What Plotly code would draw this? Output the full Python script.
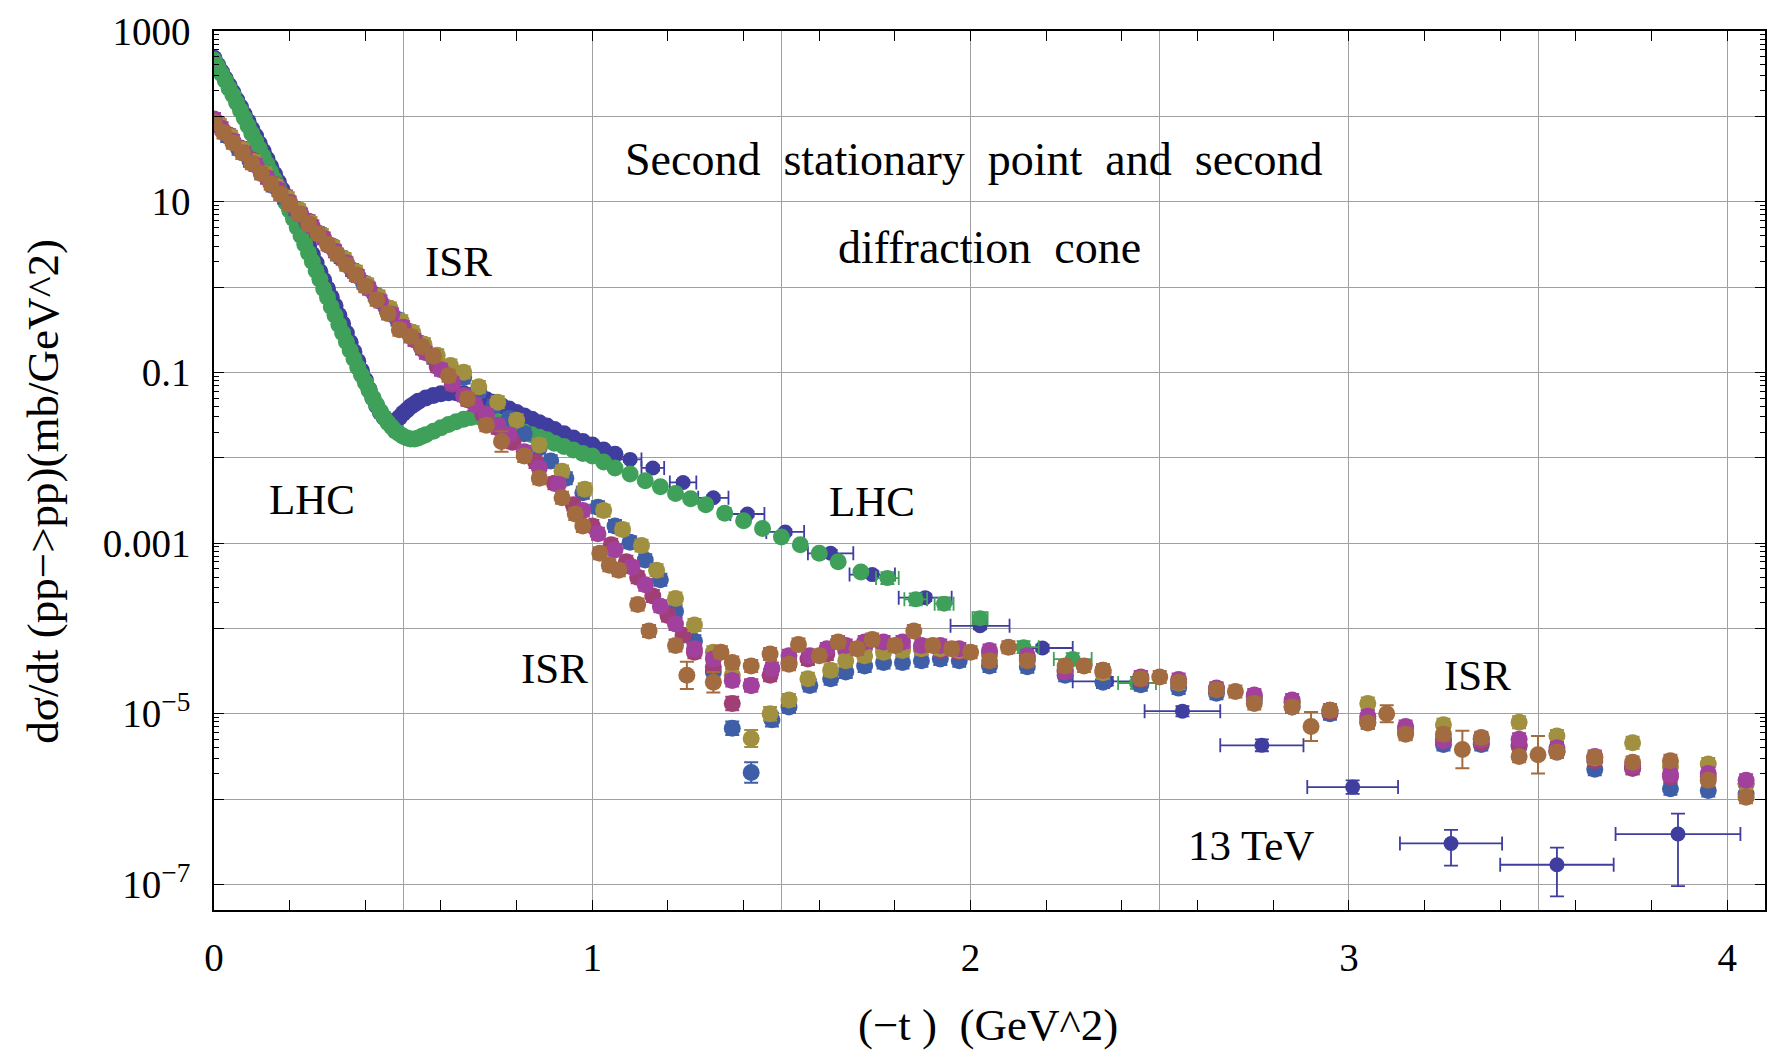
import plotly.graph_objects as go

# ---------------- data (y given as log10 values) ----------------
# LHC 13 TeV, dense region: (t, log10 dsigma/dt)
LHC13_T = [0.000, 0.010, 0.020, 0.030, 0.040, 0.050, 0.060, 0.070, 0.080, 0.090,
           0.100, 0.110, 0.120, 0.130, 0.140, 0.150, 0.160, 0.170, 0.180, 0.190,
           0.200, 0.210, 0.220, 0.230, 0.240, 0.250, 0.260, 0.270, 0.280, 0.290,
           0.300, 0.310, 0.320, 0.330, 0.340, 0.350, 0.360, 0.370, 0.380, 0.390,
           0.400, 0.410, 0.420, 0.430, 0.440, 0.450, 0.460, 0.470, 0.480, 0.490,
           0.500, 0.510, 0.520, 0.530, 0.540, 0.560, 0.580, 0.600, 0.620, 0.640,
           0.660, 0.680, 0.700, 0.720, 0.740, 0.760, 0.780, 0.800, 0.820, 0.840,
           0.860, 0.880, 0.900, 0.925, 0.950, 0.975, 1.000, 1.030, 1.060]
LHC13_LOGY = [2.68, 2.60, 2.52, 2.44, 2.36, 2.28, 2.19, 2.11, 2.02, 1.94,
              1.85, 1.77, 1.68, 1.59, 1.50, 1.41, 1.32, 1.23, 1.14, 1.05,
              0.96, 0.86, 0.77, 0.67, 0.58, 0.48, 0.38, 0.28, 0.18, 0.08,
              -0.02, -0.12, -0.22, -0.33, -0.43, -0.54, -0.65, -0.76, -0.87, -0.98,
              -1.09, -1.20, -1.30, -1.39, -1.47, -1.53, -1.57, -1.58, -1.57, -1.53,
              -1.48, -1.44, -1.40, -1.37, -1.34, -1.30, -1.27, -1.25, -1.24, -1.24,
              -1.25, -1.27, -1.29, -1.32, -1.35, -1.39, -1.43, -1.47, -1.51, -1.55,
              -1.59, -1.63, -1.67, -1.72, -1.77, -1.81, -1.85, -1.91, -1.96]

# LHC 13 TeV, binned points with error bars
LHC13B_T = [1.10, 1.16, 1.24, 1.32, 1.41, 1.51, 1.63, 1.74, 1.88, 2.025,
            2.19, 2.36, 2.56, 2.77, 3.01, 3.27, 3.55, 3.87]
LHC13B_LOGY = [-2.02, -2.12, -2.29, -2.47, -2.66, -2.87, -3.12, -3.37, -3.64, -3.97,
               -4.23, -4.62, -4.97, -5.37, -5.86, -6.52, -6.77, -6.41]
LHC13B_XERR = [0.03, 0.03, 0.035, 0.04, 0.045, 0.05, 0.06, 0.06, 0.07, 0.078,
               0.08, 0.09, 0.10, 0.11, 0.12, 0.135, 0.15, 0.165]
LHC13B_DEX_UP = [0.03, 0.03, 0.03, 0.03, 0.03, 0.03, 0.04, 0.04, 0.04, 0.04,
                 0.04, 0.05, 0.06, 0.07, 0.08, 0.16, 0.20, 0.24]
LHC13B_DEX_DN = [0.03, 0.03, 0.03, 0.03, 0.03, 0.03, 0.04, 0.04, 0.04, 0.04,
                 0.04, 0.05, 0.06, 0.07, 0.08, 0.26, 0.37, 0.61]

# LHC 7 TeV (green), dense region
LHC7_T = [0.000, 0.010, 0.020, 0.030, 0.040, 0.050, 0.060, 0.070, 0.080, 0.090,
          0.100, 0.110, 0.120, 0.130, 0.140, 0.150, 0.160, 0.170, 0.180, 0.190,
          0.200, 0.210, 0.220, 0.230, 0.240, 0.250, 0.260, 0.270, 0.280, 0.290,
          0.300, 0.310, 0.320, 0.330, 0.340, 0.350, 0.360, 0.370, 0.380, 0.390,
          0.400, 0.410, 0.420, 0.430, 0.440, 0.450, 0.460, 0.470, 0.480, 0.490,
          0.500, 0.510, 0.520, 0.530, 0.540, 0.550, 0.560, 0.580, 0.600, 0.620,
          0.640, 0.660, 0.680, 0.700, 0.720, 0.740, 0.760, 0.780, 0.800, 0.820,
          0.840, 0.860, 0.880, 0.900, 0.925, 0.950, 0.975, 1.000, 1.030, 1.060,
          1.100, 1.140, 1.180, 1.220, 1.260, 1.300, 1.350, 1.400, 1.450, 1.500,
          1.550, 1.600, 1.650, 1.710]
LHC7_LOGY = [2.66, 2.58, 2.50, 2.42, 2.33, 2.25, 2.16, 2.07, 1.98, 1.89,
             1.80, 1.71, 1.62, 1.53, 1.44, 1.35, 1.26, 1.17, 1.08, 0.99,
             0.90, 0.80, 0.70, 0.60, 0.50, 0.40, 0.30, 0.19, 0.09, -0.02,
             -0.12, -0.23, -0.33, -0.44, -0.54, -0.64, -0.74, -0.84, -0.94, -1.03,
             -1.12, -1.21, -1.30, -1.38, -1.46, -1.53, -1.59, -1.64, -1.69, -1.72,
             -1.75, -1.77, -1.78, -1.78, -1.77, -1.75, -1.73, -1.69, -1.65, -1.61,
             -1.58, -1.55, -1.53, -1.52, -1.53, -1.56, -1.59, -1.62, -1.66, -1.70,
             -1.73, -1.76, -1.79, -1.83, -1.87, -1.91, -1.95, -1.98, -2.05, -2.12,
             -2.19, -2.27, -2.34, -2.42, -2.48, -2.55, -2.65, -2.74, -2.83, -2.93,
             -3.02, -3.12, -3.22, -3.34]
# LHC 7 TeV, points with horizontal bars
LHC7B_T = [1.78, 1.855, 1.93, 2.025, 2.14, 2.27, 2.44]
LHC7B_LOGY = [-3.41, -3.66, -3.71, -3.88, -4.22, -4.36, -4.64]
LHC7B_XERR = [0.03, 0.03, 0.025, 0.02, 0.04, 0.05, 0.05]

# ISR energies: (t, log10 y, log10 half error)
ISR_BLUE = [
    (0.005, 1.91, 0.07), (0.035, 1.77, 0.07), (0.065, 1.62, 0.07), (0.095, 1.48, 0.07),
    (0.125, 1.34, 0.07), (0.155, 1.19, 0.07), (0.185, 1.05, 0.07), (0.215, 0.91, 0.07),
    (0.245, 0.77, 0.07), (0.275, 0.63, 0.07), (0.305, 0.49, 0.07), (0.335, 0.35, 0.07),
    (0.365, 0.20, 0.07), (0.395, 0.05, 0.07), (0.425, -0.09, 0.07), (0.455, -0.24, 0.07),
    (0.485, -0.38, 0.07), (0.515, -0.52, 0.07), (0.545, -0.66, 0.07), (0.58, -0.83, 0.07),
    (0.62, -0.95, 0.07), (0.66, -1.06, 0.07), (0.70, -1.22, 0.07), (0.74, -1.39, 0.07),
    (0.78, -1.54, 0.07), (0.82, -1.72, 0.07), (0.86, -1.88, 0.07), (0.89, -2.04, 0.07),
    (0.93, -2.24, 0.07), (0.975, -2.41, 0.07), (1.015, -2.58, 0.07), (1.06, -2.80, 0.07),
    (1.10, -2.99, 0.07), (1.14, -3.20, 0.07), (1.18, -3.43, 0.07), (1.22, -3.80, 0.07),
    (1.27, -4.15, 0.07), (1.32, -4.51, 0.07), (1.37, -5.17, 0.08), (1.42, -5.69, 0.12),
    (1.475, -5.07, 0.08), (1.52, -4.92, 0.07), (1.575, -4.67, 0.07), (1.63, -4.59, 0.07),
    (1.67, -4.51, 0.07), (1.72, -4.44, 0.07), (1.77, -4.40, 0.07), (1.82, -4.40, 0.07),
    (1.87, -4.38, 0.07), (1.92, -4.36, 0.07), (1.97, -4.38, 0.07), (2.05, -4.44, 0.07),
    (2.15, -4.45, 0.07), (2.25, -4.55, 0.07), (2.35, -4.63, 0.07), (2.45, -4.66, 0.07),
    (2.55, -4.70, 0.07), (2.65, -4.76, 0.07), (2.75, -4.84, 0.07), (2.85, -4.92, 0.07),
    (2.95, -5.00, 0.07), (3.05, -5.10, 0.07), (3.15, -5.22, 0.07), (3.25, -5.36, 0.07),
    (3.35, -5.36, 0.07), (3.45, -5.38, 0.07), (3.55, -5.45, 0.07), (3.65, -5.65, 0.07),
    (3.75, -5.64, 0.07), (3.85, -5.88, 0.07), (3.95, -5.90, 0.07), (4.05, -5.94, 0.07),
]
ISR_CRIMSON = [
    (0.010, 1.92, 0.07), (0.04, 1.78, 0.07), (0.07, 1.63, 0.07), (0.10, 1.49, 0.07),
    (0.13, 1.34, 0.07), (0.16, 1.20, 0.07), (0.19, 1.06, 0.07), (0.22, 0.91, 0.07),
    (0.25, 0.77, 0.07), (0.28, 0.62, 0.07), (0.31, 0.48, 0.07), (0.34, 0.33, 0.07),
    (0.37, 0.18, 0.07), (0.40, 0.03, 0.07), (0.43, -0.12, 0.07), (0.46, -0.27, 0.07),
    (0.49, -0.42, 0.07), (0.52, -0.57, 0.07), (0.55, -0.72, 0.07), (0.59, -0.93, 0.07),
    (0.63, -1.14, 0.07), (0.67, -1.32, 0.07), (0.71, -1.48, 0.07), (0.75, -1.65, 0.07),
    (0.79, -1.82, 0.07), (0.85, -2.05, 0.07), (0.90, -2.30, 0.07), (0.95, -2.55, 0.07),
    (1.00, -2.80, 0.07), (1.05, -3.02, 0.07), (1.09, -3.22, 0.07), (1.12, -3.40, 0.07),
    (1.16, -3.62, 0.07), (1.20, -3.85, 0.07), (1.24, -4.08, 0.07), (1.27, -4.28, 0.07),
    (1.32, -4.45, 0.07), (1.37, -4.88, 0.08), (1.42, -4.67, 0.07), (1.47, -4.55, 0.07),
    (1.52, -4.40, 0.07), (1.57, -4.36, 0.07), (1.62, -4.30, 0.07), (1.67, -4.26, 0.07),
    (1.72, -4.22, 0.07), (1.77, -4.22, 0.07), (1.82, -4.22, 0.07), (1.87, -4.24, 0.07),
    (1.92, -4.26, 0.07), (1.97, -4.28, 0.07), (2.05, -4.30, 0.07), (2.15, -4.36, 0.07),
    (2.25, -4.50, 0.07), (2.35, -4.52, 0.07), (2.45, -4.60, 0.07), (2.55, -4.64, 0.07),
    (2.65, -4.72, 0.07), (2.75, -4.80, 0.07), (2.85, -4.87, 0.07), (2.95, -4.98, 0.07),
    (3.05, -5.06, 0.07), (3.15, -5.18, 0.07), (3.25, -5.30, 0.07), (3.35, -5.34, 0.07),
    (3.45, -5.36, 0.07), (3.55, -5.44, 0.07), (3.65, -5.55, 0.07), (3.75, -5.64, 0.07),
    (3.85, -5.74, 0.07), (3.95, -5.74, 0.07), (4.05, -5.82, 0.07),
]
ISR_OLIVE = [
    (0.015, 1.90, 0.07), (0.045, 1.76, 0.07), (0.075, 1.61, 0.07), (0.105, 1.47, 0.07),
    (0.135, 1.33, 0.07), (0.165, 1.18, 0.07), (0.195, 1.04, 0.07), (0.225, 0.90, 0.07),
    (0.255, 0.75, 0.07), (0.285, 0.61, 0.07), (0.315, 0.47, 0.07), (0.345, 0.33, 0.07),
    (0.375, 0.18, 0.07), (0.405, 0.03, 0.07), (0.435, -0.11, 0.07), (0.465, -0.25, 0.07),
    (0.495, -0.40, 0.07), (0.525, -0.53, 0.07), (0.555, -0.67, 0.07), (0.59, -0.80, 0.07),
    (0.625, -0.92, 0.07), (0.66, -1.00, 0.07), (0.70, -1.17, 0.07), (0.75, -1.35, 0.07),
    (0.80, -1.56, 0.07), (0.86, -1.85, 0.07), (0.92, -2.16, 0.07), (0.98, -2.37, 0.07),
    (1.03, -2.62, 0.07), (1.08, -2.84, 0.07), (1.13, -3.03, 0.07), (1.17, -3.32, 0.07),
    (1.22, -3.65, 0.07), (1.27, -3.96, 0.07), (1.32, -4.28, 0.07), (1.37, -4.55, 0.07),
    (1.42, -5.29, 0.10), (1.47, -5.00, 0.08), (1.52, -4.84, 0.07), (1.57, -4.59, 0.07),
    (1.63, -4.49, 0.07), (1.67, -4.38, 0.07), (1.72, -4.32, 0.07), (1.77, -4.28, 0.07),
    (1.82, -4.26, 0.07), (1.87, -4.24, 0.07), (1.92, -4.24, 0.07), (1.97, -4.26, 0.07),
    (2.05, -4.30, 0.07), (2.15, -4.36, 0.07), (2.25, -4.48, 0.07), (2.35, -4.52, 0.07),
    (2.45, -4.58, 0.07), (2.55, -4.64, 0.07), (2.65, -4.71, 0.07), (2.75, -4.80, 0.07),
    (2.85, -4.87, 0.07), (2.95, -4.96, 0.07), (3.05, -4.88, 0.07), (3.15, -5.18, 0.07),
    (3.25, -5.13, 0.07), (3.35, -5.30, 0.07), (3.45, -5.10, 0.07), (3.55, -5.26, 0.07),
    (3.65, -5.52, 0.07), (3.75, -5.34, 0.07), (3.85, -5.62, 0.07), (3.95, -5.59, 0.07),
    (4.05, -5.82, 0.07),
]
ISR_MAGENTA = [
    (0.000, 1.97, 0.07), (0.02, 1.86, 0.07), (0.05, 1.71, 0.07), (0.08, 1.57, 0.07),
    (0.11, 1.43, 0.07), (0.14, 1.28, 0.07), (0.17, 1.14, 0.07), (0.20, 0.99, 0.07),
    (0.23, 0.85, 0.07), (0.26, 0.71, 0.07), (0.29, 0.57, 0.07), (0.32, 0.42, 0.07),
    (0.35, 0.28, 0.07), (0.38, 0.13, 0.07), (0.41, -0.02, 0.07), (0.44, -0.17, 0.07),
    (0.47, -0.32, 0.07), (0.50, -0.47, 0.07), (0.53, -0.62, 0.07), (0.56, -0.77, 0.07),
    (0.60, -0.97, 0.07), (0.63, -1.12, 0.07), (0.66, -1.27, 0.07), (0.69, -1.38, 0.07),
    (0.72, -1.50, 0.07), (0.75, -1.62, 0.07), (0.78, -1.73, 0.07), (0.82, -1.93, 0.07),
    (0.86, -2.12, 0.07), (0.91, -2.31, 0.07), (0.975, -2.62, 0.07), (1.015, -2.89, 0.07),
    (1.06, -3.08, 0.07), (1.105, -3.28, 0.07), (1.14, -3.49, 0.07), (1.18, -3.74, 0.07),
    (1.22, -3.95, 0.07), (1.27, -4.24, 0.07), (1.32, -4.36, 0.07), (1.37, -4.61, 0.07),
    (1.42, -4.67, 0.07), (1.475, -4.47, 0.07), (1.52, -4.32, 0.07), (1.575, -4.32, 0.07),
    (1.62, -4.24, 0.07), (1.67, -4.20, 0.07), (1.72, -4.16, 0.07), (1.77, -4.16, 0.07),
    (1.82, -4.16, 0.07), (1.87, -4.20, 0.07), (1.92, -4.20, 0.07), (1.97, -4.24, 0.07),
    (2.05, -4.26, 0.07), (2.15, -4.32, 0.07), (2.25, -4.51, 0.07), (2.35, -4.49, 0.07),
    (2.45, -4.57, 0.07), (2.55, -4.60, 0.07), (2.65, -4.70, 0.07), (2.75, -4.78, 0.07),
    (2.85, -4.84, 0.07), (2.95, -4.96, 0.07), (3.05, -5.03, 0.07), (3.15, -5.15, 0.07),
    (3.25, -5.32, 0.07), (3.35, -5.30, 0.07), (3.45, -5.30, 0.07), (3.55, -5.40, 0.07),
    (3.65, -5.50, 0.07), (3.75, -5.61, 0.07), (3.85, -5.71, 0.07), (3.95, -5.70, 0.07),
    (4.05, -5.78, 0.07),
]
ISR_BROWN = [
    (0.000, 1.93, 0.07), (0.025, 1.81, 0.07), (0.05, 1.69, 0.07), (0.075, 1.57, 0.07),
    (0.10, 1.45, 0.07), (0.125, 1.33, 0.07), (0.15, 1.21, 0.07), (0.175, 1.09, 0.07),
    (0.20, 0.97, 0.07), (0.225, 0.86, 0.07), (0.25, 0.74, 0.07), (0.275, 0.62, 0.07),
    (0.30, 0.50, 0.07), (0.325, 0.38, 0.07), (0.35, 0.26, 0.07), (0.375, 0.14, 0.07),
    (0.40, 0.01, 0.07), (0.43, -0.15, 0.07), (0.46, -0.31, 0.07), (0.49, -0.50, 0.07),
    (0.52, -0.58, 0.07), (0.55, -0.70, 0.07), (0.58, -0.81, 0.07), (0.62, -1.04, 0.07),
    (0.67, -1.31, 0.07), (0.72, -1.62, 0.07), (0.76, -1.81, 0.12), (0.82, -1.98, 0.07),
    (0.86, -2.24, 0.07), (0.92, -2.47, 0.07), (0.955, -2.66, 0.07), (0.975, -2.80, 0.07),
    (1.02, -3.12, 0.07), (1.045, -3.26, 0.07), (1.07, -3.32, 0.07), (1.12, -3.72, 0.07),
    (1.15, -4.03, 0.07), (1.22, -4.20, 0.07), (1.25, -4.55, 0.16), (1.32, -4.63, 0.12),
    (1.34, -4.28, 0.07), (1.37, -4.40, 0.07), (1.42, -4.44, 0.07), (1.47, -4.30, 0.07),
    (1.52, -4.42, 0.07), (1.545, -4.19, 0.07), (1.60, -4.32, 0.07), (1.65, -4.16, 0.07),
    (1.70, -4.24, 0.07), (1.74, -4.13, 0.07), (1.80, -4.20, 0.07), (1.85, -4.03, 0.07),
    (1.90, -4.20, 0.07), (1.95, -4.24, 0.07), (2.00, -4.28, 0.07), (2.05, -4.38, 0.07),
    (2.10, -4.22, 0.07), (2.15, -4.38, 0.07), (2.25, -4.44, 0.07), (2.30, -4.44, 0.07),
    (2.35, -4.49, 0.07), (2.45, -4.59, 0.07), (2.50, -4.57, 0.07), (2.55, -4.63, 0.07),
    (2.65, -4.72, 0.07), (2.70, -4.74, 0.07), (2.75, -4.88, 0.07), (2.85, -4.92, 0.07),
    (2.90, -5.15, 0.17), (2.95, -4.96, 0.07), (3.05, -5.11, 0.07), (3.10, -5.00, 0.10),
    (3.15, -5.24, 0.07), (3.25, -5.24, 0.07), (3.30, -5.42, 0.22), (3.35, -5.28, 0.07),
    (3.45, -5.50, 0.07), (3.50, -5.48, 0.22), (3.55, -5.45, 0.07), (3.65, -5.51, 0.07),
    (3.75, -5.57, 0.07), (3.85, -5.55, 0.07), (3.95, -5.78, 0.07), (4.05, -5.98, 0.07),
]

NB = "\u00a0"
ANNOTATIONS = [
    (("Second", "stationary", "point", "and", "second"), 2.01, 1.49),
    (("diffraction", "cone"), 2.05, 0.46),
    (("ISR",), 0.647, 0.30),
    (("LHC",), 0.26, -2.49),
    (("LHC",), 1.74, -2.51),
    (("ISR",), 0.90, -4.47),
    (("ISR",), 3.34, -4.55),
    (("13 TeV",), 2.74, -6.54),
]

Y_TICK_EXP = [3, 2, 1, 0, -1, -2, -3, -4, -5, -6, -7]
Y_TICK_TEXT = {3: "1000", 1: "10", -1: "0.1", -3: "0.001",
               -5: "10<sup>\u22125</sup>", -7: "10<sup>\u22127</sup>"}
X_LABELS = [0, 1, 2, 3, 4]

# ---------------- styling ----------------
INDIGO = "#3f3d9e"
GREEN = "#3fa05a"
BLUE = "#3e5fa8"
CRIMSON = "#a03f76"
OLIVE = "#a0903f"
MAGENTA = "#a2409e"
BROWN = "#a36b40"
FONT = "Liberation Serif"
GRID = "#a0a0a0"

X_RANGE = [0, 4.1]
Y_RANGE = [-7.30, 3.0]


def pw(v):
    return [10 ** a for a in v]


fig = go.Figure()

# LHC 13 TeV dense
fig.add_trace(go.Scatter(x=LHC13_T, y=pw(LHC13_LOGY), mode="markers",
                         marker=dict(color=INDIGO, size=17, line=dict(width=0)),
                         showlegend=False, hoverinfo="skip"))
# LHC 13 TeV binned
yb = pw(LHC13B_LOGY)
fig.add_trace(go.Scatter(
    x=LHC13B_T, y=yb, mode="markers",
    marker=dict(color=INDIGO, size=15, line=dict(width=0)),
    error_x=dict(type="data", array=LHC13B_XERR, color=INDIGO, thickness=1.8, width=7),
    error_y=dict(type="data", symmetric=False,
                 array=[y * (10 ** d - 1) for y, d in zip(yb, LHC13B_DEX_UP)],
                 arrayminus=[y * (1 - 10 ** (-d)) for y, d in zip(yb, LHC13B_DEX_DN)],
                 color=INDIGO, thickness=1.8, width=7),
    showlegend=False, hoverinfo="skip"))
# LHC 7 TeV dense
fig.add_trace(go.Scatter(x=LHC7_T, y=pw(LHC7_LOGY), mode="markers",
                         marker=dict(color=GREEN, size=17, line=dict(width=0)),
                         showlegend=False, hoverinfo="skip"))
# LHC 7 TeV binned
g7 = pw(LHC7B_LOGY)
fig.add_trace(go.Scatter(
    x=LHC7B_T, y=g7, mode="markers",
    marker=dict(color=GREEN, size=16, line=dict(width=0)),
    error_x=dict(type="data", array=LHC7B_XERR, color=GREEN, thickness=1.8, width=7),
    error_y=dict(type="data", symmetric=False,
                 array=[y * (10 ** 0.07 - 1) for y in g7],
                 arrayminus=[y * (1 - 10 ** -0.07) for y in g7],
                 color=GREEN, thickness=1.8, width=7),
    showlegend=False, hoverinfo="skip"))

for pts, col in [(ISR_BLUE, BLUE), (ISR_CRIMSON, CRIMSON), (ISR_OLIVE, OLIVE),
                 (ISR_MAGENTA, MAGENTA), (ISR_BROWN, BROWN)]:
    t = [p[0] for p in pts]
    y = [10 ** p[1] for p in pts]
    d = [p[2] for p in pts]
    fig.add_trace(go.Scatter(
        x=t, y=y, mode="markers",
        marker=dict(color=col, size=17, line=dict(width=0)),
        error_y=dict(type="data", symmetric=False,
                     array=[v * (10 ** e - 1) for v, e in zip(y, d)],
                     arrayminus=[v * (1 - 10 ** (-e)) for v, e in zip(y, d)],
                     color=col, thickness=2, width=7),
        showlegend=False, hoverinfo="skip"))

# empty trace to materialise the overlay axis that carries the 0.5 grid
fig.add_trace(go.Scatter(x=[], y=[], xaxis="x2", yaxis="y", showlegend=False))

x_ticks = [round(0.2 * i, 1) for i in range(21)]
x_text = [str(int(round(v))) if abs(v - round(v)) < 1e-9 and int(round(v)) in X_LABELS else ""
          for v in x_ticks]

minor_y = [k * 10 ** e for e in [2, 0, -2, -4, -6] for k in range(2, 10)]

fig.update_layout(
    width=1777, height=1050,
    margin=dict(l=214, r=10, t=22, b=140),
    paper_bgcolor="white", plot_bgcolor="white",
    font=dict(family=FONT, size=38, color="black"),
    xaxis=dict(range=X_RANGE, tickmode="array", tickvals=x_ticks, ticktext=x_text,
               ticks="inside", ticklen=10, tickwidth=1.2, tickcolor="black",
               showgrid=False, zeroline=False, showline=True, linecolor="black",
               linewidth=1.6, mirror="ticks", ticklabelstandoff=12,
               tickfont=dict(family=FONT, size=39)),
    xaxis2=dict(range=X_RANGE, overlaying="x", anchor="y", side="bottom",
                tickmode="array", tickvals=[0.5 * i for i in range(1, 9)],
                showgrid=True, gridcolor=GRID, gridwidth=1.2, ticks="",
                showticklabels=False, showline=False, zeroline=False),
    yaxis=dict(type="log", range=Y_RANGE, tickmode="array",
               tickvals=[10 ** e for e in Y_TICK_EXP],
               ticktext=[Y_TICK_TEXT.get(e, "") for e in Y_TICK_EXP],
               ticks="inside", ticklen=10, tickwidth=1.2, tickcolor="black",
               showgrid=True, gridcolor=GRID, gridwidth=1.2,
               zeroline=False, showline=True, linecolor="black", linewidth=1.6,
               mirror="ticks", ticklabelstandoff=14,
               tickfont=dict(family=FONT, size=39),
               minor=dict(tickmode="array", tickvals=minor_y, ticks="inside",
                          ticklen=5, tickwidth=1, tickcolor="black", showgrid=False)),
)

for words, ax, ay in ANNOTATIONS:
    fig.add_annotation(text=(NB * 2).join(words), x=ax, y=ay, xref="x", yref="y",
                       showarrow=False,
                       font=dict(family=FONT, size=46 if len(words) > 1 else 43,
                                 color="black"),
                       xanchor="center", yanchor="middle")

fig.add_annotation(text="d\u03c3/dt" + NB + "(pp\u2212>pp)(mb/GeV^2)", textangle=-90,
                   x=-0.1108, y=0.476, xref="paper", yref="paper", showarrow=False,
                   font=dict(family=FONT, size=45, color="black"),
                   xanchor="center", yanchor="middle")
fig.add_annotation(text="(\u2212t" + NB + ")" + NB * 2 + "(GeV^2)",
                   x=0.499, y=-0.1306, xref="paper", yref="paper", showarrow=False,
                   font=dict(family=FONT, size=45, color="black"),
                   xanchor="center", yanchor="middle")

fig.write_html("out.html")
